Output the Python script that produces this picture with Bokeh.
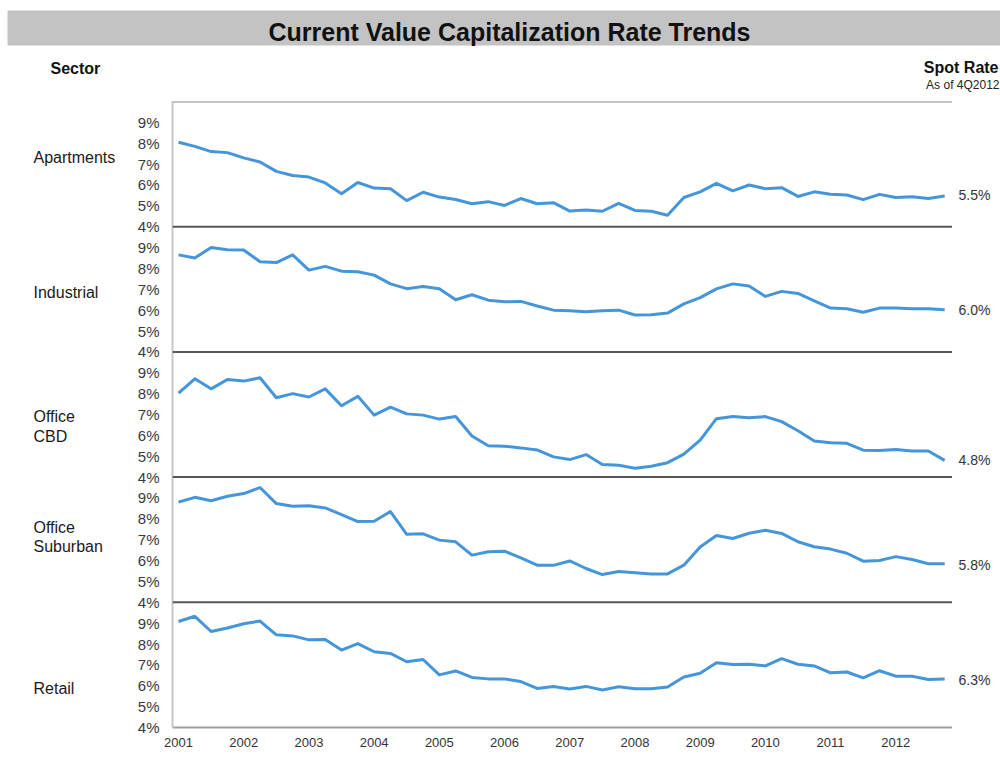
from bokeh.plotting import figure
from bokeh.layouts import column, row
from bokeh.models import Range1d, LinearAxis, FixedTicker, Span, ColumnDataSource
from bokeh.core.properties import value
from bokeh.embed import file_html
from bokeh.resources import INLINE

# ---------------- data ----------------
quarters = [f"{y}Q{q}" for y in range(2001, 2013) for q in range(1, 5)]
year_labels = ["2001", "2002", "2003", "2004", "2005", "2006",
               "2007", "2008", "2009", "2010", "2011", "2012"]
y_tick_labels = ["4%", "5%", "6%", "7%", "8%", "9%"]

sectors = ["Apartments", "Industrial", "Office CBD", "Office Suburban", "Retail"]
spot_rates = [5.5, 6.0, 4.8, 5.8, 6.3]

apartments = [8.05, 7.85, 7.6, 7.55, 7.3, 7.1, 6.65, 6.45, 6.38, 6.1, 5.58, 6.12,
              5.85, 5.82, 5.25, 5.65, 5.42, 5.3, 5.1, 5.2, 5.02, 5.35, 5.1, 5.15,
              4.75, 4.8, 4.74, 5.12, 4.78, 4.74, 4.55, 5.4, 5.67, 6.08, 5.72, 6.0,
              5.82, 5.87, 5.45, 5.67, 5.55, 5.52, 5.3, 5.55, 5.4, 5.44, 5.35, 5.47]
industrial = [8.65, 8.5, 9.0, 8.9, 8.88, 8.32, 8.28, 8.65, 7.92, 8.1, 7.87, 7.84,
              7.68, 7.26, 7.03, 7.13, 7.03, 6.5, 6.74, 6.48, 6.4, 6.42, 6.2, 6.0,
              5.97, 5.92, 5.97, 6.0, 5.77, 5.78, 5.86, 6.3, 6.6, 7.02, 7.26, 7.16,
              6.66, 6.9, 6.8, 6.45, 6.1, 6.07, 5.9, 6.1, 6.1, 6.07, 6.07, 6.02]
office_cbd = [8.03, 8.71, 8.23, 8.68, 8.6, 8.76, 7.8, 8.0, 7.84, 8.23, 7.42, 7.87,
              6.97, 7.35, 7.03, 6.97, 6.78, 6.9, 5.97, 5.5, 5.48, 5.4, 5.3, 4.97,
              4.84, 5.08, 4.6, 4.57, 4.42, 4.52, 4.69, 5.1, 5.77, 6.8, 6.9, 6.85,
              6.9, 6.66, 6.22, 5.73, 5.65, 5.62, 5.29, 5.27, 5.32, 5.25, 5.25, 4.8]
office_suburban = [8.8, 9.03, 8.87, 9.08, 9.21, 9.5, 8.73, 8.6, 8.63, 8.52, 8.2, 7.87,
                   7.88, 8.35, 7.26, 7.28, 6.98, 6.9, 6.26, 6.42, 6.45, 6.13, 5.78, 5.77,
                   5.98, 5.62, 5.33, 5.48, 5.42, 5.36, 5.36, 5.78, 6.65, 7.2, 7.06, 7.31,
                   7.45, 7.3, 6.9, 6.66, 6.55, 6.35, 5.97, 6.0, 6.19, 6.05, 5.85, 5.85]
retail = [9.08, 9.33, 8.6, 8.77, 8.97, 9.1, 8.44, 8.39, 8.2, 8.22, 7.71, 8.02,
          7.63, 7.55, 7.15, 7.26, 6.52, 6.71, 6.4, 6.33, 6.33, 6.2, 5.87, 5.97,
          5.85, 5.97, 5.8, 5.95, 5.86, 5.86, 5.94, 6.42, 6.6, 7.1, 7.02, 7.03,
          6.95, 7.3, 7.03, 6.95, 6.62, 6.66, 6.38, 6.72, 6.46, 6.46, 6.3, 6.32]

series = [apartments, industrial, office_cbd, office_suburban, retail]

# ---------------- style ----------------
FONT = value("Liberation Sans")
LINE_COLOR = "#4595da"
n_panels = len(sectors)
panel_span = 6  # each panel shows 4% .. 10%
FRAME_H = 626
BOTTOM = 39


def bare(fig):
    fig.outline_line_color = None
    fig.xgrid.visible = False
    fig.ygrid.visible = False
    return fig


# ---------------- header (page-pixel coordinates) ----------------
hdr = bare(figure(width=1000, height=101, output_backend="svg", toolbar_location=None,
                  x_range=Range1d(0, 1000), y_range=Range1d(101, 0),
                  x_axis_type=None, y_axis_type=None,
                  min_border=0, min_border_left=0, min_border_right=0,
                  min_border_top=0, min_border_bottom=0))
hdr.quad(left=[7], right=[1000], top=[10], bottom=[45], fill_color="#c3c3c3",
         line_color=None)
hdr.text(x=[509], y=[31], text=["Current Value Capitalization Rate Trends"],
         text_align="center", text_baseline="middle", text_font=FONT,
         text_font_size="25px", text_font_style="bold", text_color="#111111")
hdr.text(x=[50], y=[68], text=["Sector"], text_align="left", text_baseline="middle",
         text_font=FONT, text_font_size="16px", text_font_style="bold",
         text_color="#111111")
hdr.text(x=[998], y=[67], text=["Spot Rate"], text_align="right",
         text_baseline="middle", text_font=FONT, text_font_size="16px",
         text_font_style="bold", text_color="#111111")
hdr.text(x=[999], y=[84], text=["As of 4Q2012"], text_align="right",
         text_baseline="middle", text_font=FONT, text_font_size="12px",
         text_color="#222222")

# ---------------- main panels ----------------
main = bare(figure(width=824, height=FRAME_H + BOTTOM, output_backend="svg",
                   toolbar_location=None,
                   x_range=Range1d(-0.37, 47.48), y_range=Range1d(0, n_panels * panel_span),
                   x_axis_type=None, y_axis_type=None,
                   min_border_left=44, min_border_right=0, min_border_top=0,
                   min_border_bottom=BOTTOM))

panel_ranges = {}
for k in range(n_panels):
    b = (n_panels - 1 - k) * panel_span
    panel_ranges[f"r{k}"] = Range1d(4 - b, 4 - b + n_panels * panel_span)
main.extra_y_ranges = dict(panel_ranges)

x_idx = list(range(len(quarters)))
for k, vals in enumerate(series):
    src = ColumnDataSource(dict(x=x_idx, y=vals, q=quarters))
    main.line("x", "y", source=src, y_range_name=f"r{k}", line_color=LINE_COLOR,
              line_width=3, line_join="round")

all_ticks = list(range(n_panels * panel_span))
overrides = {t: y_tick_labels[t % panel_span] for t in all_ticks}
yax = LinearAxis(ticker=FixedTicker(ticks=all_ticks), major_label_overrides=overrides,
                 axis_line_color="#c8c8c8", axis_line_width=2,
                 major_tick_out=0, major_tick_in=0, minor_tick_out=0, minor_tick_in=0,
                 major_label_standoff=13, major_label_text_font="Liberation Sans",
                 major_label_text_font_size="15px", major_label_text_color="#3a3a3a")
main.add_layout(yax, "left")

year_ticks = [4 * i for i in range(len(year_labels))]
xax = LinearAxis(ticker=FixedTicker(ticks=year_ticks),
                 major_label_overrides={t: lab for t, lab in zip(year_ticks, year_labels)},
                 axis_line_color="#a0a0a0", axis_line_width=2,
                 major_tick_out=0, major_tick_in=0, minor_tick_out=0, minor_tick_in=0,
                 major_label_standoff=10, major_label_text_font="Liberation Sans",
                 major_label_text_font_size="13px", major_label_text_color="#333333")
main.add_layout(xax, "below")

main.ygrid.visible = True
main.ygrid.ticker = FixedTicker(ticks=[t for t in all_ticks if t % panel_span != 0])
main.ygrid.grid_line_color = "#d4d4d4"
main.ygrid.grid_line_width = 2

for k in range(1, n_panels):
    main.add_layout(Span(location=k * panel_span, dimension="width",
                         line_color="#555555", line_width=2))
main.add_layout(Span(location=n_panels * panel_span, dimension="width",
                     line_color="#8a8a8a", line_width=2))

# ---------------- left: sector names (page-pixel coordinates) ----------------
left = bare(figure(width=128, height=FRAME_H + BOTTOM, output_backend="svg",
                   toolbar_location=None, x_range=Range1d(0, 128),
                   y_range=Range1d(727, 101), x_axis_type=None, y_axis_type=None,
                   min_border_left=0, min_border_right=0, min_border_top=0,
                   min_border_bottom=BOTTOM))
sector_lines = ["Apartments", "Industrial", "Office", "CBD", "Office", "Suburban",
                "Retail"]
sector_line_y = [157, 292, 416, 436, 527, 546, 688]
left.text(x=[33] * len(sector_lines), y=sector_line_y, text=sector_lines,
          text_align="left", text_baseline="middle", text_font=FONT,
          text_font_size="16px", text_color="#1a1a1a")

# ---------------- right: spot rates ----------------
right = bare(figure(width=48, height=FRAME_H + BOTTOM, output_backend="svg",
                    toolbar_location=None, x_range=Range1d(0, 48),
                    y_range=Range1d(0, n_panels * panel_span),
                    x_axis_type=None, y_axis_type=None,
                    min_border_left=0, min_border_right=0, min_border_top=0,
                    min_border_bottom=BOTTOM))
right.extra_y_ranges = dict(panel_ranges)
for k, rate in enumerate(spot_rates):
    right.text(x=[6], y=[rate], text=[f"{rate:.1f}%"], y_range_name=f"r{k}",
               text_align="left", text_baseline="middle", text_font=FONT,
               text_font_size="14px", text_color="#333333")

layout = column(hdr, row(left, main, right, spacing=0), spacing=0)
open("out.html", "w").write(file_html(layout, INLINE))
